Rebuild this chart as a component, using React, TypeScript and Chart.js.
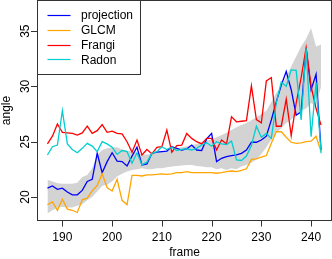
import React, { useEffect, useRef } from "react";
import { Chart, registerables } from "chart.js";

Chart.register(...registerables);

const frames = [
  187, 188, 189, 190, 191, 192, 193, 194, 195, 196, 197, 198, 199, 200,
  201, 202, 203, 204, 205, 206, 207, 208, 209, 210, 211, 212, 213, 214,
  215, 216, 217, 218, 219, 220, 221, 222, 223, 224, 225, 226, 227, 228,
  229, 230, 231, 232, 233, 234, 235, 236, 237, 238, 239, 240, 241, 242,
];

const projection = [
  20.8, 21.0, 20.7, 20.8, 20.45, 20.2, 20.2, 20.6, 21.4, 21.6, 23.95, 22.2, 23.2, 24.0,
  23.25, 23.2, 22.8, 23.7, 24.5, 22.9, 23.0, 23.95, 24.05, 24.1, 24.15, 24.55, 24.4, 24.25,
  24.35, 24.7, 24.25, 24.2, 25.25, 25.75, 23.2, 23.5, 23.65, 23.75, 23.8, 23.95, 24.25, 24.95,
  24.95, 25.15, 25.5, 26.96, 28.6, 30.1, 31.35, 29.7, 27.4, 27.7, 33.4, 29.7, 31.1, 24.25,
];

const glcm = [
  19.3, 19.55, 18.8, 19.8, 18.9, 18.8, 18.6, 19.75, 19.9, 20.55, 21.05, 22.1, 20.85, 20.55,
  21.6, 19.7, 19.3, 21.95, 21.95, 21.9, 22.0, 22.0, 22.05, 22.1, 22.05, 22.1, 22.2, 22.2,
  22.3, 22.2, 22.2, 22.2, 22.2, 22.2, 22.15, 22.2, 22.3, 22.35, 22.3, 22.4, 22.55, 23.4,
  23.45, 23.6, 23.75, 24.85, 25.9, 25.9, 25.4, 24.95, 24.85, 24.9, 25.0, 25.05, 25.5, 24.1,
];

const frangi = [
  24.8, 25.5, 26.6, 25.85, 25.8, 25.75, 25.6, 25.8, 26.4, 25.75, 26.0, 26.55, 25.85, 25.95,
  25.75, 25.7, 25.0, 24.05, 25.15, 23.8, 24.3, 23.9, 24.5, 24.55, 26.05, 24.05, 24.65, 24.7,
  25.75, 25.3, 25.0, 24.8, 25.3, 25.3, 24.25, 25.15, 24.8, 27.25, 26.8, 26.85, 26.9, 30.05,
  27.0, 26.7, 30.5, 30.8, 26.4, 26.4, 28.85, 25.55, 28.5, 30.8, 33.5, 30.0, 28.0, 26.5,
];

const radon = [
  23.8, 24.55, 24.7, 27.8, 24.8, 24.3, 24.0, 24.4, 24.85, 24.6, 24.1, 25.0, 24.8, 24.5,
  23.85, 24.2, 24.1, 23.05, 24.0, 22.9, 23.15, 23.95, 24.1, 24.55, 24.3, 24.5, 24.2, 24.3,
  24.35, 24.25, 24.4, 24.7, 24.9, 24.6, 25.0, 24.8, 24.75, 25.05, 23.35, 23.3, 23.7, 24.65,
  26.4, 25.4, 25.75, 25.3, 28.5, 30.4, 30.0, 31.5, 31.45, 26.96, 33.45, 25.45, 30.35, 23.95,
];

const bandUpper = [
  21.55, 21.4, 21.25, 21.2, 21.2, 21.2, 21.3, 21.8, 22.0, 22.6, 23.8, 24.25, 24.4, 24.5,
  24.5, 24.3, 24.2, 24.1, 24.0, 23.85, 23.85, 23.9, 24.0, 24.1, 24.2, 24.3, 24.4, 24.5,
  24.6, 24.7, 24.8, 25.0, 25.1, 25.2, 25.4, 25.6, 25.8, 26.05, 26.3, 26.5, 26.7, 26.95,
  27.2, 27.5, 27.8, 28.6, 29.4, 30.0, 30.9, 31.8, 32.7, 33.6, 34.3, 35.25, 33.6, 33.8,
];

const bandLower = [
  18.5, 18.8, 19.05, 19.1, 19.05, 19.05, 19.2, 19.35, 19.7, 20.0, 20.5, 21.0, 21.1, 21.4,
  21.85, 22.1, 22.3, 22.45, 22.5, 22.6, 22.5, 22.5, 22.6, 22.6, 22.7, 22.75, 22.8, 22.85,
  22.9, 22.9, 22.8, 22.75, 22.7, 22.7, 22.5, 22.6, 22.45, 22.6, 22.5, 22.75, 22.9, 23.1,
  23.4, 23.9, 24.5, 25.2, 25.8, 26.2, 26.7, 27.0, 27.4, 27.8, 28.0, 28.5, 28.2, 30.0,
];

const xTicks = [190, 200, 210, 220, 230, 240];
const yTicks = [20, 25, 30, 35];
const seriesNames = ["projection", "GLCM", "Frangi", "Radon"];
const seriesColors = ["#0000FF", "#FFA500", "#FF0000", "#00CED1"];
const xTitle = "frame";
const yTitle = "angle";

const FONT = '12px "Liberation Sans", Arial, sans-serif';

function pts(vals: number[]) {
  return frames.map((f, i) => ({ x: f, y: vals[i] }));
}

const rStyle = {
  id: "rStyle",
  afterDraw(chart: any) {
    const { ctx, chartArea: a, scales } = chart;
    const xs = scales.x;
    const ys = scales.y;
    ctx.save();
    ctx.strokeStyle = "#333";
    ctx.lineWidth = 1;
    ctx.strokeRect(a.left + 0.5, a.top, a.right - a.left, a.bottom - a.top);
    ctx.fillStyle = "#000";
    ctx.font = FONT;
    ctx.textAlign = "center";
    ctx.textBaseline = "alphabetic";
    xTicks.forEach((v) => {
      const px = Math.round(xs.getPixelForValue(v)) + 0.5;
      ctx.beginPath();
      ctx.moveTo(px, a.bottom);
      ctx.lineTo(px, a.bottom + 6);
      ctx.stroke();
      ctx.fillText(String(v), xs.getPixelForValue(v), 241);
    });
    yTicks.forEach((v) => {
      const py = Math.round(ys.getPixelForValue(v)) + 0.5;
      ctx.beginPath();
      ctx.moveTo(a.left + 0.5, py);
      ctx.lineTo(a.left - 6, py);
      ctx.stroke();
      ctx.save();
      ctx.translate(28.5, ys.getPixelForValue(v));
      ctx.rotate(-Math.PI / 2);
      ctx.fillText(String(v), 0, 0);
      ctx.restore();
    });
    ctx.fillText(xTitle, (a.left + a.right) / 2 + 0.5, 256);
    ctx.save();
    ctx.translate(9.5, (a.top + a.bottom) / 2);
    ctx.rotate(-Math.PI / 2);
    ctx.fillText(yTitle, 0, 0);
    ctx.restore();
    // legend
    const lx = a.left + 0.5;
    const ly = a.top;
    ctx.fillStyle = "#fff";
    ctx.fillRect(lx, ly, 103, 74);
    ctx.strokeStyle = "#333";
    ctx.strokeRect(lx, ly, 103, 74);
    ctx.textAlign = "left";
    ctx.textBaseline = "middle";
    seriesNames.forEach((name, i) => {
      const yy = 15 + i * 14.8;
      ctx.save();
      ctx.strokeStyle = seriesColors[i];
      ctx.lineWidth = 1.2;
      ctx.beginPath();
      ctx.moveTo(47.5, Math.round(yy) + 0.5);
      ctx.lineTo(70.5, Math.round(yy) + 0.5);
      ctx.stroke();
      ctx.restore();
      ctx.fillStyle = "#000";
      ctx.fillText(name, 81, yy + 1);
    });
    ctx.restore();
  },
};

export default function App() {
  const ref = useRef<HTMLCanvasElement | null>(null);
  useEffect(() => {
    document.body.style.margin = "0";
    if (!ref.current) return;
    const lineDs = (i: number, vals: number[], order: number) => ({
      label: seriesNames[i],
      data: pts(vals),
      borderColor: seriesColors[i],
      backgroundColor: seriesColors[i],
      borderWidth: 1.3,
      pointRadius: 0,
      tension: 0,
      fill: false,
      order,
    });
    const chart = new Chart(ref.current, {
      type: "line",
      data: {
        datasets: [
          {
            label: "lower",
            data: pts(bandLower),
            borderColor: "rgba(0,0,0,0)",
            borderWidth: 0,
            pointRadius: 0,
            fill: false,
            order: 10,
          },
          {
            label: "upper",
            data: pts(bandUpper),
            borderColor: "rgba(0,0,0,0)",
            backgroundColor: "#D3D3D3",
            borderWidth: 0,
            pointRadius: 0,
            fill: "-1",
            order: 10,
          },
          lineDs(0, projection, 4),
          lineDs(1, glcm, 3),
          lineDs(2, frangi, 2),
          lineDs(3, radon, 1),
        ] as any,
      },
      options: {
        animation: false,
        responsive: false,
        devicePixelRatio: 1,
        events: [],
        layout: { padding: { top: 0.5, right: 1, left: 0, bottom: 0 } },
        plugins: { legend: { display: false }, tooltip: { enabled: false } },
        scales: {
          x: {
            type: "linear",
            min: 184.9,
            max: 244.0,
            grid: { display: false },
            border: { display: false },
            ticks: { display: false },
            afterFit: (s: any) => {
              s.height = 38.5;
            },
          },
          y: {
            type: "linear",
            min: 17.875,
            max: 37.77,
            grid: { display: false },
            border: { display: false },
            ticks: { display: false },
            afterFit: (s: any) => {
              s.width = 37;
            },
          },
        },
      } as any,
      plugins: [rStyle],
    });
    return () => chart.destroy();
  }, []);
  return (
    <div style={{ position: "absolute", left: 0, top: 0, width: 332, height: 259 }}>
      <canvas ref={ref} width={332} height={259} style={{ display: "block" }} />
    </div>
  );
}
